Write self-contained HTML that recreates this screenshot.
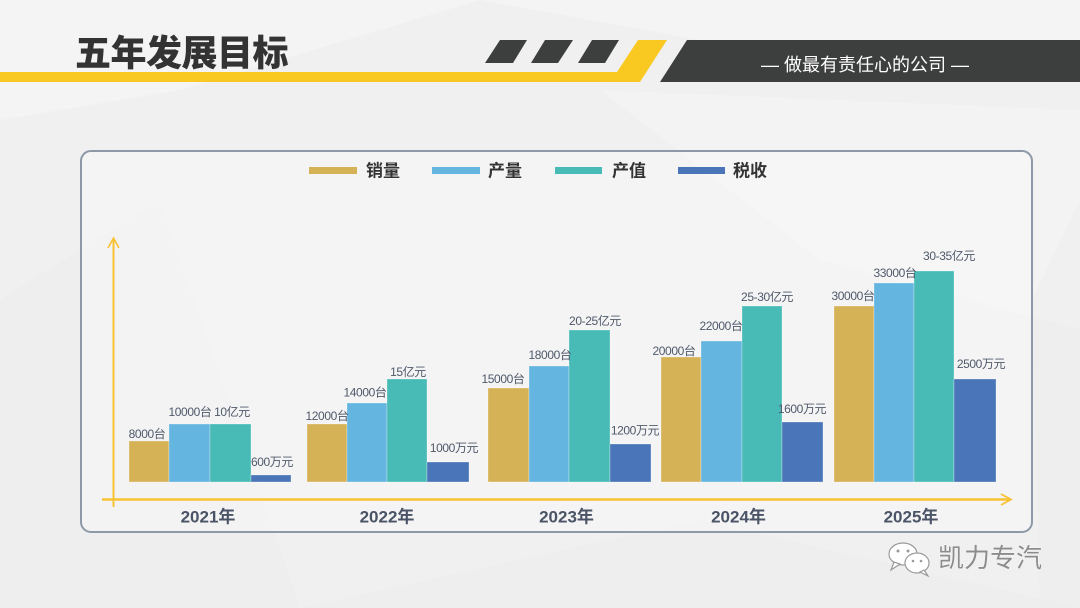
<!DOCTYPE html>
<html>
<head>
<meta charset="utf-8">
<style>
html,body{margin:0;padding:0;}
body{width:1080px;height:608px;overflow:hidden;background:#f0f0f1;}
svg{display:block;}
.lbl{font-family:"Liberation Sans","Noto Sans CJK SC",sans-serif;font-size:12px;fill:#4f596a;letter-spacing:-0.4px;}
.yr{font-family:"Liberation Sans","Noto Sans CJK SC",sans-serif;font-size:17px;font-weight:bold;fill:#4a5466;}
.lg{font-family:"Liberation Sans","Noto Sans CJK SC",sans-serif;font-size:17px;font-weight:bold;fill:#333;}
</style>
</head>
<body>
<svg width="1080" height="608" viewBox="0 0 1080 608" xmlns="http://www.w3.org/2000/svg">
  <!-- background -->
  <rect x="0" y="0" width="1080" height="608" fill="#f0f0f1"/>
  <polygon points="0,0 480,0 180,90 0,120" fill="#f6f6f7" opacity="0.6"/>
  <polygon points="480,0 1080,0 1080,40 700,40" fill="#f6f6f7" opacity="0.6"/>
  <polygon points="0,300 160,200 300,608 0,608" fill="#ebecee" opacity="0.5"/>
  <polygon points="600,90 1080,110 1080,330 820,260" fill="#f5f5f6" opacity="0.5"/>
  <polygon points="300,608 700,520 1080,608" fill="#ececee" opacity="0.4"/>
  <polygon points="1032,300 1080,200 1080,608 1040,608" fill="#eaebed" opacity="0.4"/>

  <!-- header -->
  <polygon points="0,72 617,72 638,40 667,40 640,82 0,82" fill="#f9c922"/>
  <polygon points="500,40 527,40 513,63 485,63" fill="#3d3e3e"/>
  <polygon points="545,40 573,40 558,63 531,63" fill="#3d3e3e"/>
  <polygon points="592,40 619,40 605,63 578,63" fill="#3d3e3e"/>
  <polygon points="687,40 1080,40 1080,82 660,82" fill="#3d3e3e"/>
  <text x="865" y="65" text-anchor="middle" dominant-baseline="central" font-family="'Liberation Sans','Noto Sans CJK SC',sans-serif" font-size="18" fill="#ffffff">— 做最有责任心的公司 —</text>
  <text x="75" y="53" dominant-baseline="central" font-family="'Liberation Sans','Noto Sans CJK SC',sans-serif" font-size="36" font-weight="900" fill="#333333" letter-spacing="-0.5">五年发展目标</text>

  <!-- chart box -->
  <rect x="81" y="151" width="951" height="381" rx="10" ry="10" fill="rgba(255,255,255,0.3)" stroke="#8d99a6" stroke-width="2"/>

  <!-- legend -->
  <rect x="309" y="167" width="48" height="7" fill="#d6b257"/>
  <text class="lg" x="366" y="171" dominant-baseline="central">销量</text>
  <rect x="432" y="167" width="48" height="7" fill="#64b5e0"/>
  <text class="lg" x="488" y="171" dominant-baseline="central">产量</text>
  <rect x="555" y="167" width="47" height="7" fill="#48bbb7"/>
  <text class="lg" x="612" y="171" dominant-baseline="central">产值</text>
  <rect x="678" y="167" width="47" height="7" fill="#4a76b9"/>
  <text class="lg" x="733" y="171" dominant-baseline="central">税收</text>

  <!-- axes -->
  <line x1="113.5" y1="240" x2="113.5" y2="507" stroke="#f7c234" stroke-width="2"/>
  <polyline points="108,248 113.5,238 119,248" fill="none" stroke="#f7c234" stroke-width="1.6"/>
  <line x1="102" y1="499.5" x2="1009" y2="499.5" stroke="#f7c234" stroke-width="2.5"/>
  <polyline points="1001,494 1011,499.5 1001,505" fill="none" stroke="#f7c234" stroke-width="1.8"/>

  <!-- bars -->
  <g stroke="rgba(255,255,255,0.35)" stroke-width="0.8">
  <rect x="129" y="441" width="40" height="41" fill="#d6b257"/>
  <rect x="169" y="424" width="41" height="58" fill="#64b5e0"/>
  <rect x="210" y="424" width="41" height="58" fill="#48bbb7"/>
  <rect x="251" y="475" width="40" height="7" fill="#4a76b9"/>

  <rect x="307" y="424" width="40" height="58" fill="#d6b257"/>
  <rect x="347" y="403" width="40" height="79" fill="#64b5e0"/>
  <rect x="387" y="379" width="40" height="103" fill="#48bbb7"/>
  <rect x="427" y="462" width="42" height="20" fill="#4a76b9"/>

  <rect x="488" y="388" width="41" height="94" fill="#d6b257"/>
  <rect x="529" y="366" width="40" height="116" fill="#64b5e0"/>
  <rect x="569" y="330" width="41" height="152" fill="#48bbb7"/>
  <rect x="610" y="444" width="41" height="38" fill="#4a76b9"/>

  <rect x="661" y="357" width="40" height="125" fill="#d6b257"/>
  <rect x="701" y="341" width="41" height="141" fill="#64b5e0"/>
  <rect x="742" y="306" width="40" height="176" fill="#48bbb7"/>
  <rect x="782" y="422" width="41" height="60" fill="#4a76b9"/>

  <rect x="834" y="306" width="40" height="176" fill="#d6b257"/>
  <rect x="874" y="283" width="40" height="199" fill="#64b5e0"/>
  <rect x="914" y="271" width="40" height="211" fill="#48bbb7"/>
  <rect x="954" y="379" width="42" height="103" fill="#4a76b9"/>
  </g>

  <!-- data labels -->
  <g text-anchor="middle" dominant-baseline="central">
  <text class="lbl" x="147" y="434">8000台</text>
  <text class="lbl" x="190" y="412">10000台</text>
  <text class="lbl" x="232" y="412">10亿元</text>
  <text class="lbl" x="272" y="462">600万元</text>

  <text class="lbl" x="327" y="416">12000台</text>
  <text class="lbl" x="365" y="392.5">14000台</text>
  <text class="lbl" x="408" y="372">15亿元</text>
  <text class="lbl" x="454" y="448">1000万元</text>

  <text class="lbl" x="503" y="379">15000台</text>
  <text class="lbl" x="550" y="355">18000台</text>
  <text class="lbl" x="595" y="321">20-25亿元</text>
  <text class="lbl" x="635" y="430.5">1200万元</text>

  <text class="lbl" x="674" y="351">20000台</text>
  <text class="lbl" x="721" y="326">22000台</text>
  <text class="lbl" x="767" y="297">25-30亿元</text>
  <text class="lbl" x="802" y="409">1600万元</text>

  <text class="lbl" x="853" y="296">30000台</text>
  <text class="lbl" x="895" y="273">33000台</text>
  <text class="lbl" x="949" y="256">30-35亿元</text>
  <text class="lbl" x="981" y="364">2500万元</text>
  </g>

  <!-- year labels -->
  <g text-anchor="middle" dominant-baseline="central">
  <text class="yr" x="208" y="517">2021年</text>
  <text class="yr" x="387" y="517">2022年</text>
  <text class="yr" x="566.5" y="517">2023年</text>
  <text class="yr" x="738.5" y="517">2024年</text>
  <text class="yr" x="911" y="517">2025年</text>
  </g>

  <!-- watermark -->
  <g stroke="#9a9a9a" stroke-width="1.2" fill="#ffffff">
    <ellipse cx="903" cy="554" rx="14" ry="11"/>
    <polygon points="894,562 891,570 900,564" />
    <ellipse cx="917" cy="563" rx="12" ry="10"/>
    <polygon points="924,570 928,576 920,572"/>
  </g>
  <g fill="#9a9a9a">
    <circle cx="898" cy="551" r="1.5"/><circle cx="908" cy="551" r="1.5"/>
    <circle cx="913" cy="561" r="1.3"/><circle cx="921" cy="561" r="1.3"/>
  </g>
  <text x="938" y="558" dominant-baseline="central" font-family="'Liberation Sans','Noto Sans CJK SC',sans-serif" font-size="26" fill="#8c8c8c" stroke="#ffffff" stroke-width="0.6" paint-order="stroke">凯力专汽</text>
</svg>
</body>
</html>
